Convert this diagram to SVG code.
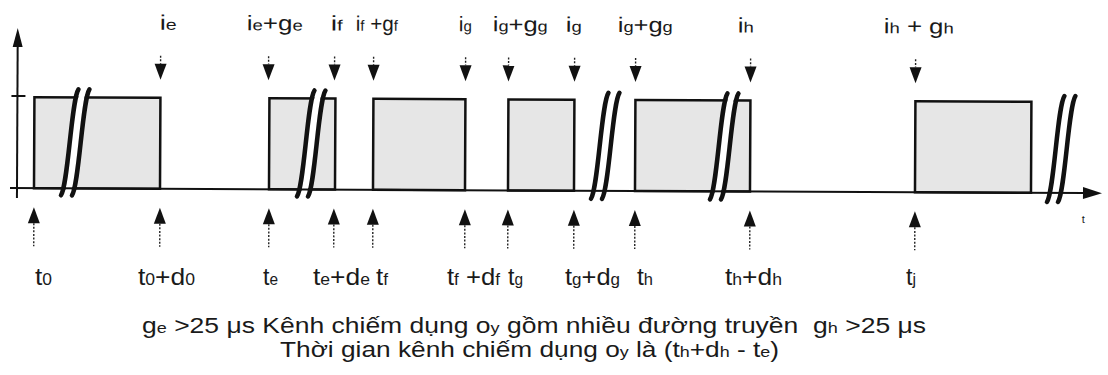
<svg xmlns="http://www.w3.org/2000/svg" xmlns:xlink="http://www.w3.org/1999/xlink" width="1108" height="375" viewBox="0 0 1108 375">
<style>
  text { font-family: "Liberation Sans", Arial, sans-serif; fill: #1a1a1a; white-space: pre; }
  .top { font-size: 21px; }
  .bot { font-size: 24px; }
  .cap { font-size: 22px; }
  .s1 { font-size: 15px; }
  .s2 { font-size: 16px; }
  .s3 { font-size: 15px; }
  .box { fill: #e6e6e6; stroke: #111; stroke-width: 2.5; }
  .axis { stroke: #111; stroke-width: 2; fill: none; }
  .bk { stroke: #111; stroke-width: 4.5; fill: none; stroke-linecap: round; }
  .bw { stroke: #fff; stroke-width: 6; fill: none; }
  .dot { stroke: #222; stroke-width: 1.4; stroke-dasharray: 2 1.6; }
  .head { fill: #111; }
</style>
<defs>
  <path id="bs" d="M0,0 C7,-10 10,-96 17,-106"/>
  <g id="brkw"><use xlink:href="#bs" href="#bs" x="5.5" class="bw"/></g>
  <g id="brkb"><use xlink:href="#bs" href="#bs" class="bk"/><use xlink:href="#bs" href="#bs" x="11" class="bk"/></g>
  <g id="dn"><line x1="0" y1="-24" x2="0" y2="-16" class="dot"/><polygon points="-6,-16 6,-16 0,0" class="head"/></g>
  <g id="up"><line x1="0" y1="16" x2="0" y2="39" class="dot"/><polygon points="-6,16 6,16 0,0" class="head"/></g>
</defs>

<g id="diagram" transform="rotate(0.27 0 188)">
  <g id="pulses">
    <g id="pulse1"><rect x="34" y="97" width="126" height="91" class="box"/></g>
    <g id="pulse2"><rect x="269" y="97" width="66" height="91" class="box"/></g>
    <g id="pulse3"><rect x="373" y="97" width="92" height="91" class="box"/></g>
    <g id="pulse4"><rect x="508" y="97" width="66" height="91" class="box"/></g>
    <g id="pulse5"><rect x="635" y="97" width="115" height="91" class="box"/></g>
    <g id="pulse6"><rect x="915" y="97" width="116" height="91" class="box"/></g>
  </g>
  <g id="break-gaps">
    <use xlink:href="#brkw" href="#brkw" transform="translate(61,195)"/>
    <use xlink:href="#brkw" href="#brkw" transform="translate(297,195)"/>
    <use xlink:href="#brkw" href="#brkw" transform="translate(591,196)"/>
    <use xlink:href="#brkw" href="#brkw" transform="translate(710,196)"/>
    <use xlink:href="#brkw" href="#brkw" transform="translate(1047,197)"/>
  </g>
  <g id="axes">
    <line x1="17" y1="198" x2="17" y2="44" class="axis"/>
    <polygon points="17,28 12,47 22,47" class="head"/>
    <line x1="11" y1="96" x2="25" y2="96" class="axis"/>
    <line x1="10" y1="188" x2="1086" y2="188" class="axis"/>
    <polygon points="1102,188 1083,182 1083,194" class="head"/>
  </g>
  <g id="breaks">
    <use xlink:href="#brkb" href="#brkb" transform="translate(61,195)"/>
    <use xlink:href="#brkb" href="#brkb" transform="translate(297,195)"/>
    <use xlink:href="#brkb" href="#brkb" transform="translate(591,196)"/>
    <use xlink:href="#brkb" href="#brkb" transform="translate(710,196)"/>
    <use xlink:href="#brkb" href="#brkb" transform="translate(1047,197)"/>
  </g>
  <g id="connectors">
    <use xlink:href="#dn" href="#dn" transform="translate(160,79)"/>
    <use xlink:href="#dn" href="#dn" transform="translate(268,79)"/>
    <use xlink:href="#dn" href="#dn" transform="translate(334,79)"/>
    <use xlink:href="#dn" href="#dn" transform="translate(373,79)"/>
    <use xlink:href="#dn" href="#dn" transform="translate(465,79)"/>
    <use xlink:href="#dn" href="#dn" transform="translate(508,79)"/>
    <use xlink:href="#dn" href="#dn" transform="translate(574,79)"/>
    <use xlink:href="#dn" href="#dn" transform="translate(635,79)"/>
    <use xlink:href="#dn" href="#dn" transform="translate(750,79)"/>
    <use xlink:href="#dn" href="#dn" transform="translate(915,79)"/>

    <use xlink:href="#up" href="#up" transform="translate(34,207)"/>
    <use xlink:href="#up" href="#up" transform="translate(160,207)"/>
    <use xlink:href="#up" href="#up" transform="translate(269,207)"/>
    <use xlink:href="#up" href="#up" transform="translate(334,207)"/>
    <use xlink:href="#up" href="#up" transform="translate(373,207)"/>
    <use xlink:href="#up" href="#up" transform="translate(465,207)"/>
    <use xlink:href="#up" href="#up" transform="translate(508,207)"/>
    <use xlink:href="#up" href="#up" transform="translate(574,207)"/>
    <use xlink:href="#up" href="#up" transform="translate(635,207)"/>
    <use xlink:href="#up" href="#up" transform="translate(750,207)"/>
    <use xlink:href="#up" href="#up" transform="translate(915,207)"/>
  </g>
  <g id="top-labels" class="top">
    <text class="top" x="159" y="29" textLength="17" lengthAdjust="spacingAndGlyphs">i<tspan class="s1">e</tspan></text>
    <text class="top" x="246" y="29" textLength="56" lengthAdjust="spacingAndGlyphs">i<tspan class="s1">e</tspan>+g<tspan class="s1">e</tspan></text>
    <text class="top" x="330" y="29" textLength="12" lengthAdjust="spacingAndGlyphs">i<tspan class="s1">f</tspan></text>
    <text class="top" x="355" y="29" textLength="42" lengthAdjust="spacingAndGlyphs">i<tspan class="s1">f</tspan> +g<tspan class="s1">f</tspan></text>
    <text class="top" x="458" y="29" textLength="13" lengthAdjust="spacingAndGlyphs">i<tspan class="s1">g</tspan></text>
    <text class="top" x="492" y="29" textLength="55" lengthAdjust="spacingAndGlyphs">i<tspan class="s1">g</tspan>+g<tspan class="s1">g</tspan></text>
    <text class="top" x="565" y="29" textLength="16" lengthAdjust="spacingAndGlyphs">i<tspan class="s1">g</tspan></text>
    <text class="top" x="617" y="29" textLength="55" lengthAdjust="spacingAndGlyphs">i<tspan class="s1">g</tspan>+g<tspan class="s1">g</tspan></text>
    <text class="top" x="737" y="29" textLength="16" lengthAdjust="spacingAndGlyphs">i<tspan class="s1">h</tspan></text>
    <text class="top" x="883" y="29" textLength="70" lengthAdjust="spacingAndGlyphs">i<tspan class="s1">h</tspan> + g<tspan class="s1">h</tspan></text>
  </g>
  <text x="1082" y="218" style="font-size:11px">t</text>
</g>

<g id="bottom-labels">
  <text class="bot" x="35" y="285" textLength="17" lengthAdjust="spacingAndGlyphs">t<tspan class="s2">0</tspan></text>
  <text class="bot" x="138" y="285" textLength="57" lengthAdjust="spacingAndGlyphs">t<tspan class="s2">0</tspan>+d<tspan class="s2">0</tspan></text>
  <text class="bot" x="263" y="285" textLength="15" lengthAdjust="spacingAndGlyphs">t<tspan class="s2">e</tspan></text>
  <text class="bot" x="313" y="285" textLength="57" lengthAdjust="spacingAndGlyphs">t<tspan class="s2">e</tspan>+d<tspan class="s2">e</tspan></text>
  <text class="bot" x="376" y="285" textLength="12" lengthAdjust="spacingAndGlyphs">t<tspan class="s2">f</tspan></text>
  <text class="bot" x="447" y="285" textLength="53" lengthAdjust="spacingAndGlyphs">t<tspan class="s2">f</tspan> +d<tspan class="s2">f</tspan></text>
  <text class="bot" x="508" y="285" textLength="15" lengthAdjust="spacingAndGlyphs">t<tspan class="s2">g</tspan></text>
  <text class="bot" x="565" y="285" textLength="55" lengthAdjust="spacingAndGlyphs">t<tspan class="s2">g</tspan>+d<tspan class="s2">g</tspan></text>
  <text class="bot" x="637" y="285" textLength="16" lengthAdjust="spacingAndGlyphs">t<tspan class="s2">h</tspan></text>
  <text class="bot" x="725" y="285" textLength="57" lengthAdjust="spacingAndGlyphs">t<tspan class="s2">h</tspan>+d<tspan class="s2">h</tspan></text>
  <text class="bot" x="906" y="285" textLength="10" lengthAdjust="spacingAndGlyphs">t<tspan class="s2">j</tspan></text>
</g>

<g id="caption">
  <text class="cap" x="142" y="333" textLength="784" lengthAdjust="spacingAndGlyphs">g<tspan class="s3">e</tspan> &gt;25 μs Kênh chiếm dụng o<tspan class="s3">y</tspan> gồm nhiều đường truyền  g<tspan class="s3">h</tspan> &gt;25 μs</text>
  <text class="cap" x="280" y="357" textLength="499" lengthAdjust="spacingAndGlyphs">Thời gian kênh chiếm dụng o<tspan class="s3">y</tspan> là (t<tspan class="s3">h</tspan>+d<tspan class="s3">h</tspan> - t<tspan class="s3">e</tspan>)</text>
</g>
</svg>
